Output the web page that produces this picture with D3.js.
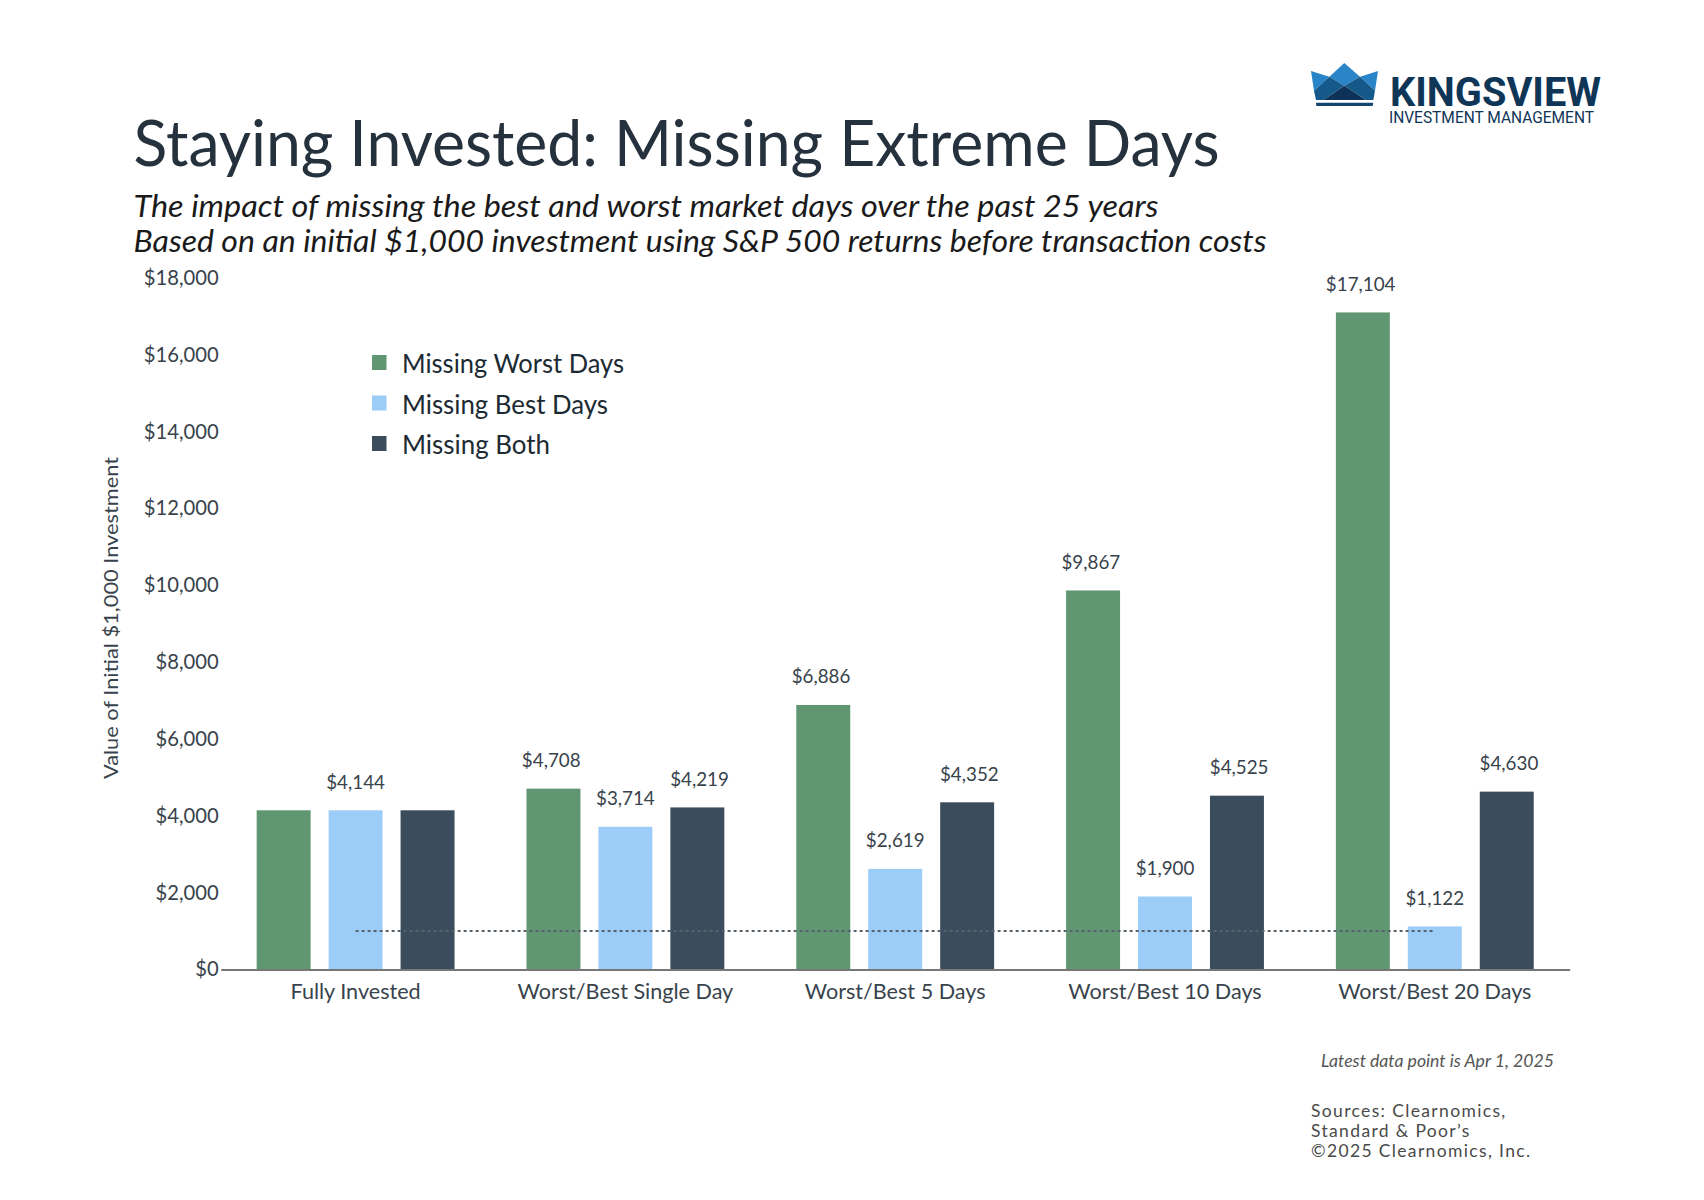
<!DOCTYPE html>
<html>
<head>
<meta charset="utf-8">
<script src="https://d3js.org/d3.v7.min.js"></script>
<style>
  body { margin: 0; background: #fff; }
  svg { display: block; }
  text { font-family: Lato, "Noto Sans", sans-serif; }
</style>
</head>
<body>
<svg id="chart" width="1704" height="1200"></svg>
<script>
const categories = ["Fully Invested", "Worst/Best Single Day", "Worst/Best 5 Days", "Worst/Best 10 Days", "Worst/Best 20 Days"];
const seriesNames = ["Missing Worst Days", "Missing Best Days", "Missing Both"];
const missingWorst = [4144, 4708, 6886, 9867, 17104];
const missingBest = [4144, 3714, 2619, 1900, 1122];
const missingBoth = [4144, 4219, 4352, 4525, 4630];
const colors = ["#609772", "#9ccdf8", "#3b4d5c"];
const yTicks = [0, 2000, 4000, 6000, 8000, 10000, 12000, 14000, 16000, 18000];
const initialInvestment = 1000;

const svg = d3.select("#chart");
const allSeries = [missingWorst, missingBest, missingBoth];

const margin = { top: 278, left: 220.7, right: 134.3, bottom: 230.5 };
const width = 1704 - margin.left - margin.right;
const height = 1200 - margin.top - margin.bottom;

const chart = svg.append("g").attr("transform", `translate(${margin.left},${margin.top})`);

const x0 = d3.scaleBand().domain(categories).range([0, width]).paddingInner(0.2).paddingOuter(0.1);
const x1 = d3.scaleBand().domain(d3.range(3)).range([0, x0.bandwidth()]).paddingInner(0.25).paddingOuter(0.125);
const y = d3.scaleLinear().domain([0, 18000]).range([height, 0]);

// y axis, labels only
const yAxis = chart.append("g")
  .call(d3.axisLeft(y).tickValues(yTicks).tickSize(0).tickPadding(2).tickFormat(d3.format("$,")));
yAxis.select(".domain").remove();
yAxis.selectAll("text")
  .style("font-family", "Lato, sans-serif")
  .style("font-size", "20.2px")
  .attr("fill", "#38434c");

// bars
const groups = chart.selectAll(".group")
  .data(categories)
  .join("g")
  .attr("class", "group")
  .attr("transform", d => `translate(${x0(d)},0)`);

groups.selectAll("rect")
  .data((d, i) => allSeries.map((s, k) => ({ k: k, value: s[i] })))
  .join("rect")
  .attr("x", d => x1(d.k))
  .attr("width", x1.bandwidth())
  .attr("y", d => y(d.value))
  .attr("height", d => height - y(d.value))
  .attr("fill", d => colors[d.k]);

// value labels (first group only has one, on the middle bar)
// outer labels sit a little away from the bar centre in the original
groups.selectAll(".value")
  .data((d, i) => allSeries.map((s, k) => ({ k: k, value: s[i], i: i })).filter(d => d.i > 0 || d.k == 1))
  .join("text")
  .attr("class", "value")
  .attr("x", d => x1(d.k) + x1.bandwidth() / 2 + (d.k - 1) * 2.2)
  .attr("y", d => y(d.value) - 21.5)
  .attr("text-anchor", "middle")
  .attr("font-size", 18.8)
  .attr("fill", "#38434c")
  .text(d => d3.format("$,")(d.value));

// dotted reference line at the initial investment
chart.append("line")
  .attr("x1", x0(categories[0]) + x0.bandwidth() / 2)
  .attr("x2", x0(categories[4]) + x0.bandwidth() / 2)
  .attr("y1", y(initialInvestment))
  .attr("y2", y(initialInvestment))
  .attr("stroke", "#56616b")
  .attr("stroke-width", 2)
  .attr("stroke-dasharray", "3 3");

// x axis
const xAxis = chart.append("g")
  .attr("transform", `translate(0,${height})`)
  .call(d3.axisBottom(x0).tickSize(0).tickPadding(14));
xAxis.select(".domain").attr("stroke", "#777").attr("stroke-width", 2);
xAxis.selectAll("text")
  .style("font-family", "Lato, sans-serif")
  .style("font-size", "21.6px")
  .attr("fill", "#38434c");

// y axis title
svg.append("text")
  .attr("transform", "translate(118,618) rotate(-90)")
  .attr("text-anchor", "middle")
  .attr("font-size", 20)
  .attr("fill", "#38434c")
  .attr("textLength", 322)
  .attr("lengthAdjust", "spacingAndGlyphs")
  .text("Value of Initial $1,000 Investment");

// legend
const legendWidths = [222, 206, 148];
const legend = svg.append("g").selectAll("g")
  .data(seriesNames)
  .join("g")
  .attr("transform", (d, i) => `translate(372,${355 + i * 40.5})`);
legend.append("rect")
  .attr("width", 14.5)
  .attr("height", 15)
  .attr("fill", (d, i) => colors[i]);
legend.append("text")
  .attr("x", 30)
  .attr("y", 18)
  .attr("font-size", 26.5)
  .attr("fill", "#1c2a33")
  .attr("textLength", (d, i) => legendWidths[i])
  .attr("lengthAdjust", "spacingAndGlyphs")
  .text(d => d);

// titles
svg.append("text")
  .attr("x", 133.5).attr("y", 166)
  .attr("font-size", 63)
  .attr("fill", "#25323d")
  .attr("textLength", 1086)
  .attr("lengthAdjust", "spacingAndGlyphs")
  .text("Staying Invested: Missing Extreme Days");
svg.append("text")
  .attr("x", 133.5).attr("y", 217)
  .attr("font-size", 31)
  .attr("font-style", "italic")
  .attr("fill", "#1a1a1a")
  .attr("textLength", 1025)
  .attr("lengthAdjust", "spacingAndGlyphs")
  .text("The impact of missing the best and worst market days over the past 25 years");
svg.append("text")
  .attr("x", 133.5).attr("y", 252)
  .attr("font-size", 31)
  .attr("font-style", "italic")
  .attr("fill", "#1a1a1a")
  .attr("textLength", 1133)
  .attr("lengthAdjust", "spacingAndGlyphs")
  .text("Based on an initial $1,000 investment using S&P 500 returns before transaction costs");

// footnotes
svg.append("text")
  .attr("x", 1321).attr("y", 1067)
  .attr("font-size", 18)
  .attr("font-style", "italic")
  .attr("fill", "#555")
  .attr("textLength", 233)
  .attr("lengthAdjust", "spacingAndGlyphs")
  .text("Latest data point is Apr 1, 2025");
svg.append("g").selectAll("text")
  .data(["Sources: Clearnomics,", "Standard & Poor\u2019s", "\u00a92025 Clearnomics, Inc."])
  .join("text")
  .attr("x", 1311)
  .attr("y", (d, i) => 1117 + i * 20)
  .attr("font-size", 17.5)
  .attr("letter-spacing", 1.35)
  .attr("fill", "#4a4a4a")
  .text(d => d);

// logo
const logo = svg.append("g").attr("transform", "translate(1280,40) scale(0.3333)");
const crown = [
  ["#2a84c8", "93,93 148,110 102,152"],
  ["#2a84c8", "148,110 193,69 240,110 193,137"],
  ["#2a84c8", "294,93 240,110 285,152"],
  ["#14598a", "102,152 148,110 193,137 130,180 108,180"],
  ["#14598a", "285,152 240,110 193,137 258,180 280,180"],
  ["#0e3358", "130,180 193,137 258,180"],
  ["#15466f", "108,188 280,188 278,198 109,198"]
];
logo.selectAll("polygon")
  .data(crown)
  .join("polygon")
  .attr("fill", d => d[0])
  .attr("points", d => d[1]);
svg.append("text")
  .attr("x", 1390).attr("y", 105.5)
  .style("font-family", "Roboto, sans-serif")
  .attr("font-size", 40)
  .attr("font-weight", 700)
  .attr("fill", "#0f3557")
  .attr("textLength", 211)
  .attr("lengthAdjust", "spacingAndGlyphs")
  .text("KINGSVIEW");
svg.append("text")
  .attr("x", 1389).attr("y", 122.5)
  .style("font-family", "Roboto, sans-serif")
  .attr("font-size", 16.5)
  .attr("fill", "#0f3557")
  .attr("textLength", 205)
  .attr("lengthAdjust", "spacingAndGlyphs")
  .text("INVESTMENT MANAGEMENT");
</script>
</body>
</html>
